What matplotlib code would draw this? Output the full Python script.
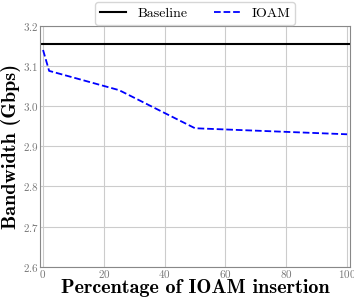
import numpy as np
import matplotlib.pyplot as plt

plt.rcParams['font.family'] = 'cmr10'
plt.rcParams['mathtext.fontset'] = 'cm'
plt.rcParams['axes.formatter.use_mathtext'] = True

# data
pct = [0, 2, 25, 50, 100]
ioam_bw = [3.14, 3.088, 3.04, 2.945, 2.93]
baseline_bw = 3.155

fig = plt.figure(figsize=(3.54, 2.98), dpi=100)
ax = fig.add_axes([0.113, 0.105, 0.876, 0.808])

ax.axhline(baseline_bw, color='black', lw=1.5, label='Baseline')
ax.plot(pct, ioam_bw, color='blue', ls='--', lw=1.3, label='IOAM')

ax.set_xlim(-1, 101)
ax.set_ylim(2.6, 3.2)
ax.set_xticks([0, 20, 40, 60, 80, 100])
ax.set_yticks([2.6, 2.7, 2.8, 2.9, 3.0, 3.1, 3.2])
ax.grid(True, color='#cccccc', lw=0.8)
ax.tick_params(labelsize=8, colors='#777777', length=0, pad=1)
for s in ax.spines.values():
    s.set_color('#888888')

ax.set_xlabel('Percentage of IOAM insertion', fontsize=14.5, family='cmb10')
ax.xaxis.set_label_coords(0.5, -0.052)
ax.set_ylabel('Bandwidth (Gbps)', fontsize=14.5, family='cmb10')
ax.yaxis.set_label_coords(-0.062, 0.5)

ax.legend(loc='lower center', bbox_to_anchor=(0.5, 1.0), ncol=2, fontsize=10,
          frameon=True, borderpad=0.35, handlelength=1.9, columnspacing=1.9,
          borderaxespad=0.1)

plt.savefig('out.png', dpi=100)
